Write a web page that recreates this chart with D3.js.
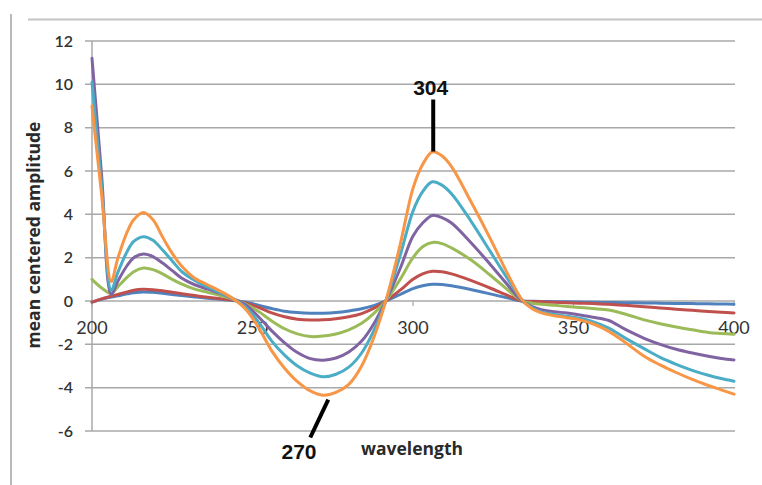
<!DOCTYPE html>
<html>
<head>
<meta charset="utf-8">
<script src="https://cdn.jsdelivr.net/npm/d3@7"></script>
<style>
  html, body { margin: 0; padding: 0; background: #fff; }
  svg { display: block; }
</style>
</head>
<body>
<svg id="chart" width="762" height="485"></svg>
<script>
// ---- data ----
const wavelengths = [200,203,206,208,211,213,216,219,222,225,228,232,236,240,244,248,252,256,260,264,268,272,276,280,284,288,292,296,300,303,306,309,312,318,324,330,334,337,340,344,348,352,356,361,366,372,377,382,387,392,396,400];

const blueSeries = [-0.05,0.08,0.18,0.24,0.33,0.38,0.42,0.4,0.36,0.3,
  0.25,0.19,0.13,0.08,0.02,-0.06,-0.2,-0.35,-0.47,-0.53,
  -0.56,-0.56,-0.53,-0.46,-0.36,-0.2,0.03,0.3,0.57,0.7,
  0.77,0.76,0.7,0.53,0.33,0.12,0.0,-0.01,-0.02,-0.03,
  -0.04,-0.05,-0.06,-0.07,-0.08,-0.09,-0.1,-0.11,-0.12,-0.13,
  -0.14,-0.15];

const redSeries = [-0.05,0.1,0.22,0.3,0.42,0.5,0.54,0.52,0.47,0.4,
  0.33,0.25,0.17,0.1,0.03,-0.1,-0.3,-0.55,-0.73,-0.84,
  -0.88,-0.87,-0.82,-0.73,-0.58,-0.32,0.05,0.5,1.0,1.25,
  1.37,1.35,1.25,0.95,0.6,0.22,0.0,-0.02,-0.04,-0.06,
  -0.08,-0.1,-0.12,-0.15,-0.2,-0.27,-0.32,-0.38,-0.43,-0.48,
  -0.52,-0.55];

const greenSeries = [1.0,0.6,0.35,0.65,1.1,1.35,1.52,1.45,1.25,1.0,
  0.78,0.55,0.4,0.25,0.08,-0.15,-0.5,-0.92,-1.28,-1.52,
  -1.64,-1.62,-1.52,-1.33,-1.03,-0.55,0.1,1.0,2.0,2.5,
  2.7,2.65,2.45,1.9,1.2,0.45,0.0,-0.1,-0.15,-0.2,
  -0.25,-0.3,-0.35,-0.42,-0.6,-0.87,-1.05,-1.2,-1.33,-1.45,
  -1.5,-1.54];

const purpleSeries = [11.2,5.8,0.3,0.9,1.65,2.0,2.17,2.05,1.75,1.4,
  1.05,0.75,0.55,0.35,0.1,-0.2,-0.75,-1.38,-1.93,-2.38,
  -2.66,-2.73,-2.63,-2.35,-1.85,-1.0,0.15,1.5,3.0,3.6,
  3.95,3.85,3.6,2.7,1.7,0.65,0.0,-0.25,-0.4,-0.5,
  -0.55,-0.65,-0.75,-0.9,-1.3,-1.72,-2.0,-2.23,-2.4,-2.55,
  -2.65,-2.72];

const cyanSeries = [10.1,5.3,0.5,1.3,2.3,2.75,2.97,2.8,2.35,1.85,
  1.35,0.95,0.65,0.38,0.1,-0.3,-1.0,-1.85,-2.5,-3.0,
  -3.33,-3.5,-3.38,-3.05,-2.4,-1.3,0.2,2.1,4.15,5.05,
  5.5,5.35,4.95,3.7,2.3,0.9,0.05,-0.3,-0.5,-0.62,
  -0.7,-0.8,-0.95,-1.25,-1.7,-2.2,-2.6,-2.92,-3.2,-3.43,
  -3.58,-3.7];

const orangeSeries = [9.0,4.9,0.9,1.95,3.2,3.75,4.08,3.75,2.95,2.2,
  1.6,1.05,0.75,0.45,0.1,-0.4,-1.25,-2.3,-3.1,-3.72,
  -4.15,-4.35,-4.22,-3.85,-3.0,-1.6,0.25,2.6,5.2,6.3,
  6.88,6.7,6.2,4.6,2.9,1.1,0.05,-0.35,-0.55,-0.68,
  -0.77,-0.88,-1.05,-1.4,-1.9,-2.55,-2.95,-3.3,-3.62,-3.9,
  -4.1,-4.3];

const seriesNames = ["blue","red","green","purple","cyan","orange"];
const seriesColors = ["#4F81BD","#C0504D","#9BBB59","#8064A2","#4BACC6","#F79646"];
const xTicks = [200,250,300,350,400];
const yTicks = [-6,-4,-2,0,2,4,6,8,10,12];

// annotations: label, leader line from (w,v) to (w,v), text anchor (w,v)
const annotations = [
  {label:"304", x1:306.3, y1:6.9, x2:306.3, y2:9.3, tx:305.5, ty:9.5},
  {label:"270", x1:273.6, y1:-4.55, x2:268.0, y2:-6.3, tx:264.5, ty:-7.3}
];

// ---- drawing ----
const svg = d3.select("#chart");
const x = d3.scaleLinear().domain([200,400]).range([92,734]);
const y = d3.scaleLinear().domain([-6,12]).range([431,41]);

// outer frame remnants
svg.append("line").attr("x1",11).attr("x2",11).attr("y1",14).attr("y2",485)
  .attr("stroke","#8a8a8a").attr("stroke-width",1.2);
svg.append("line").attr("x1",28).attr("x2",762).attr("y1",19.5).attr("y2",19.5)
  .attr("stroke","#c4c4c4").attr("stroke-width",2);

// gridlines
svg.append("g").selectAll("line").data(yTicks).join("line")
  .attr("x1",85).attr("x2",x(400)+1)
  .attr("y1",d=>y(d)).attr("y2",d=>y(d))
  .attr("stroke","#a8a8a8").attr("stroke-width",1.5);

// vertical axis line
svg.append("line").attr("x1",x(200)).attr("x2",x(200)).attr("y1",y(12)).attr("y2",y(-6))
  .attr("stroke","#a8a8a8").attr("stroke-width",1.5);

// small x ticks
svg.append("g").selectAll("line").data(xTicks).join("line")
  .attr("x1",d=>x(d)).attr("x2",d=>x(d)).attr("y1",y(0)).attr("y2",y(0)+5)
  .attr("stroke","#a8a8a8").attr("stroke-width",1.2);

// y labels
svg.append("g").selectAll("text").data(yTicks).join("text")
  .attr("x",73).attr("y",d=>y(d)).attr("dy","0.36em")
  .attr("text-anchor","end")
  .attr("font-family","Lato, 'Open Sans', sans-serif").attr("font-size",16)
  .attr("font-weight",600)
  .attr("fill","#333")
  .text(d=>d);

// x labels (under the zero line)
svg.append("g").selectAll("text").data(xTicks).join("text")
  .attr("x",d=>x(d)).attr("y",y(0)+33)
  .attr("text-anchor","middle")
  .attr("font-family","Lato, 'Open Sans', sans-serif").attr("font-size",18)
  .attr("fill","#333")
  .text(d=>d);

// series
const allSeries = [blueSeries, redSeries, greenSeries, purpleSeries, cyanSeries, orangeSeries];
const line = d3.line().x(d=>x(d[0])).y(d=>y(d[1])).curve(d3.curveCatmullRom.alpha(0.5));
svg.append("g").selectAll("path").data(allSeries).join("path")
  .attr("d", s => line(wavelengths.map((w,i)=>[w,s[i]])))
  .attr("fill","none")
  .attr("stroke",(s,i)=>seriesColors[i])
  .attr("stroke-width",3)
  .attr("stroke-linejoin","round")
  .attr("stroke-linecap","round");

// annotations
const ann = svg.append("g");
ann.selectAll("line").data(annotations).join("line")
  .attr("x1",d=>x(d.x1)).attr("y1",d=>y(d.y1))
  .attr("x2",d=>x(d.x2)).attr("y2",d=>y(d.y2))
  .attr("stroke","#000").attr("stroke-width",4);
ann.selectAll("text").data(annotations).join("text")
  .attr("x",d=>x(d.tx)).attr("y",d=>y(d.ty))
  .attr("text-anchor","middle")
  .attr("font-family","'Liberation Sans', Arial, sans-serif")
  .attr("font-weight","bold").attr("font-size",21)
  .attr("fill","#111")
  .text(d=>d.label);

// axis titles
svg.append("text")
  .attr("transform","translate(40,235) rotate(-90)")
  .attr("text-anchor","middle")
  .attr("font-family","'Open Sans', sans-serif").attr("font-weight","bold")
  .attr("font-size",17.5).attr("fill","#2a2a2a")
  .text("mean centered amplitude");
svg.append("text")
  .attr("x",412).attr("y",455)
  .attr("text-anchor","middle")
  .attr("font-family","'Open Sans', sans-serif").attr("font-weight","bold")
  .attr("font-size",17.5).attr("fill","#2a2a2a")
  .text("wavelength");
</script>
</body>
</html>
